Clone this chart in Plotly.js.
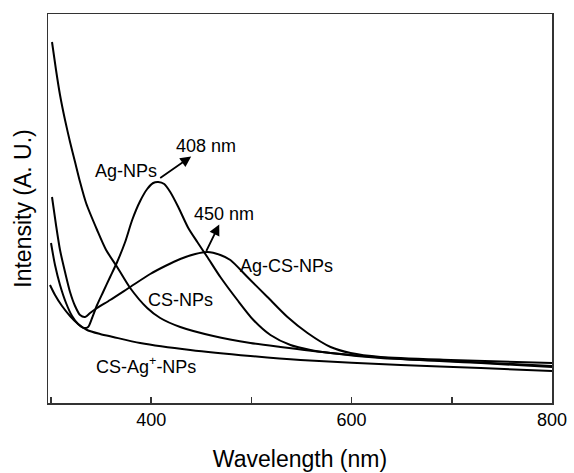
<!DOCTYPE html>
<html>
<head>
<meta charset="utf-8">
<script src="https://cdn.plot.ly/plotly-3.0.1.min.js"></script>
<style>html,body{margin:0;padding:0;background:#fff;}#chart{width:574px;height:473px;}</style>
</head>
<body>
<div id="chart"></div>
<script>
// Wavelength (nm) and intensity (A. U.)
var csNPsX = [301,305,309,314,319,324,329,335,346,355,366,379,396,409,429,462,499,529,579,649,729,800];
var csNPsY = [3.61,3.33,3.08,2.83,2.61,2.41,2.21,2.00,1.73,1.53,1.36,1.15,0.95,0.85,0.76,0.67,0.60,0.56,0.50,0.44,0.40,0.36];

var agCsNPsX = [301,305,309,314,319,324,329,334,339,346,359,379,399,414,429,444,456,469,479,496,516,536,556,579,599,629,699,800];
var agCsNPsY = [2.06,1.78,1.53,1.31,1.11,0.97,0.88,0.86,0.90,0.95,1.03,1.16,1.29,1.37,1.44,1.49,1.51,1.48,1.43,1.26,1.06,0.86,0.70,0.56,0.50,0.46,0.43,0.40];

var agNPsX = [300,304,309,315,321,327,333,337,341,346,352,359,366,374,381,389,396,402,407,413,419,427,437,446,456,469,486,502,519,539,559,579,629,699,800];
var agNPsY = [1.60,1.38,1.18,1.00,0.87,0.79,0.75,0.76,0.85,0.98,1.11,1.26,1.41,1.61,1.83,2.02,2.14,2.20,2.21,2.19,2.11,1.96,1.75,1.61,1.46,1.26,1.03,0.83,0.68,0.58,0.53,0.50,0.45,0.42,0.37];

var csAgIonNPsX = [299,304,311,319,327,336,349,362,389,439,499,549,649,729,800];
var csAgIonNPsY = [1.18,1.08,0.97,0.87,0.79,0.73,0.69,0.66,0.60,0.53,0.47,0.43,0.38,0.35,0.32];

var tickValues = [400,600,800];
var tickLabels = ['400','600','800'];

var FONT = 'Liberation Sans, Arial, Helvetica, sans-serif';
var lineStyle = {color:'#000', width:2, shape:'spline', smoothing:0.7};

function trace(name, x, y){
  return {type:'scatter', mode:'lines', name:name, x:x, y:y, line:lineStyle, hoverinfo:'x+y+name'};
}

var data = [
  trace('CS-NPs', csNPsX, csNPsY),
  trace('Ag-CS-NPs', agCsNPsX, agCsNPsY),
  trace('Ag-NPs', agNPsX, agNPsY),
  trace('CS-Ag+-NPs', csAgIonNPsX, csAgIonNPsY)
];

var txt = {family:FONT, size:18, color:'#000'};
function label(text, x, y){
  return {text:text, x:x, y:y, xref:'x', yref:'y', showarrow:false, font:txt, xanchor:'center', yanchor:'middle'};
}
// peak label: text box at (tx,ty), arrow from the curve point (px,py) with its head at the text
function peakLabel(text, px, py, tx, ty){
  return {text:text, x:px, y:py, ax:tx, ay:ty, xref:'x', yref:'y', axref:'x', ayref:'y',
          font:txt, showarrow:true, arrowside:'start', startarrowhead:2, startarrowsize:1.2,
          arrowwidth:1.8, arrowcolor:'#000', borderpad:0};
}

var layout = {
  width:574, height:473,
  margin:{l:48, r:22, t:14, b:70},
  paper_bgcolor:'#fff', plot_bgcolor:'#fff',
  showlegend:false,
  font:{family:FONT, color:'#000'},
  xaxis:{
    range:[297,800], tickmode:'array', tickvals:tickValues, ticktext:tickLabels,
    ticks:'inside', ticklen:6, tickwidth:1.5, tickcolor:'#333',
    minor:{ticks:'inside', ticklen:6, tickwidth:1.5, tickcolor:'#333', tickmode:'linear', tick0:300, dtick:100, showgrid:false},
    showline:true, linecolor:'#333', linewidth:1.5, mirror:true,
    showgrid:false, zeroline:false,
    tickfont:{family:FONT, size:18, color:'#000'},
    title:{text:'Wavelength (nm)', font:{family:FONT, size:23, color:'#000'}, standoff:22}
  },
  yaxis:{
    range:[0,3.89], showticklabels:false, ticks:'',
    showline:true, linecolor:'#333', linewidth:1.5, mirror:true,
    showgrid:false, zeroline:false,
    title:{text:'Intensity (A. U.)', font:{family:FONT, size:23, color:'#000'}, standoff:8}
  },
  annotations:[
    label('Ag-NPs', 375, 2.32),
    label('Ag-CS-NPs', 535, 1.37),
    label('CS-NPs', 429, 1.03),
    label('CS-Ag<sup>+</sup>-NPs', 395, 0.38),
    peakLabel('408 nm', 409, 2.25, 455, 2.57),
    peakLabel('450 nm', 455, 1.52, 473, 1.89)
  ]
};

Plotly.newPlot('chart', data, layout, {displayModeBar:false, staticPlot:true});
</script>
</body>
</html>
